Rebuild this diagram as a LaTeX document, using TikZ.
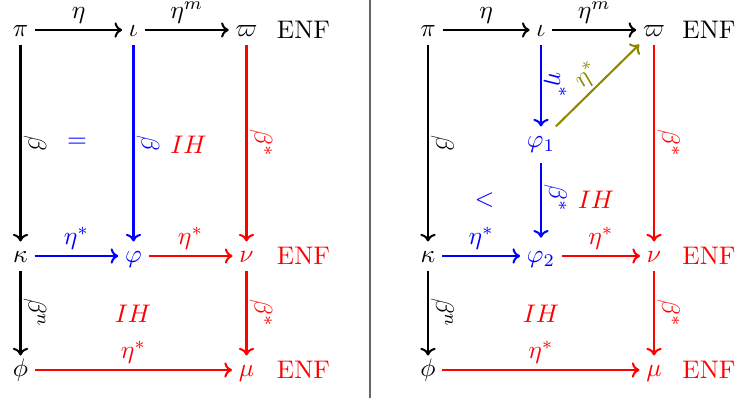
\documentclass[tikz,border=0pt]{standalone}
\usepackage{xcolor}
\usepackage{amsmath}
\usepackage{tikz}
\usetikzlibrary{arrows.meta}

\begin{document}
\begin{tikzpicture}[
    x=0.393pt, y=-0.393pt,
    obj/.style={inner xsep=2.5pt, inner ysep=1.5pt, text height=6.5pt, text depth=1.5pt},
    arr/.style={-{Computer Modern Rightarrow[length=3pt, width=6pt]}, thick},
    lab/.style={midway, above, inner sep=2pt},
    vlab/.style={midway, rotate=-90, anchor=south, inner sep=0.8pt},
]
\useasboundingbox (0,0) rectangle (740,403);

% left square
\node[obj] (lpi) at (20.5,30) {$\pi$};
\node[obj] (liota) at (133.5,30) {$\iota$};
\node[obj] (lvarpi) at (246.5,30) {$\varpi$};
\node (lenf1) at (303.5,30) {ENF};
\node[obj] (lkappa) at (20.5,256) {$\kappa$};
\node[obj, blue] (lvphi) at (133.5,256) {$\varphi$};
\node[obj, red] (lnu) at (246.5,256) {$\nu$};
\node[red] (lenf2) at (lnu -| lenf1) {ENF};
\node[obj] (lphi) at (20.5,370) {$\phi$};
\node[obj, red] (lmu) at (246.5,370) {$\mu$};
\node[red] (lenf3) at (lmu -| lenf1) {ENF};

\draw[arr] (lpi) -- node[lab] {$\eta$} (liota);
\draw[arr] (liota) -- node[lab] {$\eta^m$} (lvarpi);
\draw[arr] (lpi) -- node[vlab] {$\beta$} (lkappa);
\draw[arr, blue] (liota) -- node[vlab] {$\beta$} (lvphi);
\draw[arr, red] (lvarpi) -- node[vlab] {$\beta^*$} (lnu);
\draw[arr, blue] (lkappa) -- node[lab] {$\eta^*$} (lvphi);
\draw[arr, red] (lvphi) -- node[lab] {$\eta^*$} (lnu);
\draw[arr] (lkappa) -- node[vlab] {$\beta^n$} (lphi);
\draw[arr, red] (lnu) -- node[vlab] {$\beta^*$} (lmu);
\draw[arr, red] (lphi) -- node[lab] {$\eta^*$} (lmu);

\node[blue] (leq) at (77,142.5) {$=$};
\node[red] (lih1) at (188.5,144.5) {$IH$};
\node[red] (lih2) at (133,313.5) {$IH$};

% separator
\draw[black!60, line width=0.6pt] (370,0) -- (370,398);

% right square
\node[obj] (rpi) at (428,30) {$\pi$};
\node[obj] (riota) at (541,30) {$\iota$};
\node[obj] (rvarpi) at (654,30) {$\varpi$};
\node (renf1) at (709,30) {ENF};
\node[obj, blue] (rvphi1) at (541,141) {$\varphi_1$};
\node[obj] (rkappa) at (428,256) {$\kappa$};
\node[obj, blue] (rvphi2) at (541,256) {$\varphi_2$};
\node[obj, red] (rnu) at (654,256) {$\nu$};
\node[red] (renf2) at (rnu -| renf1) {ENF};
\node[obj] (rphi) at (428,370) {$\phi$};
\node[obj, red] (rmu) at (654,370) {$\mu$};
\node[red] (renf3) at (rmu -| renf1) {ENF};

\draw[arr] (rpi) -- node[lab] {$\eta$} (riota);
\draw[arr] (riota) -- node[lab] {$\eta^m$} (rvarpi);
\draw[arr] (rpi) -- node[vlab] {$\beta$} (rkappa);
\draw[arr, blue] (riota) -- node[vlab] {$\eta^*$} (rvphi1);
\draw[arr, olive] (rvphi1) -- node[midway, above, sloped, inner sep=1pt] {$\eta^*$} (rvarpi);
\draw[arr, blue, shorten <=2.8pt, shorten >=1.5pt] (rvphi1) -- node[vlab] {$\beta^*$} (rvphi2);
\draw[arr, red] (rvarpi) -- node[vlab] {$\beta^*$} (rnu);
\draw[arr, blue] (rkappa) -- node[lab] {$\eta^*$} (rvphi2);
\draw[arr, red] (rvphi2) -- node[lab] {$\eta^*$} (rnu);
\draw[arr] (rkappa) -- node[vlab] {$\beta^n$} (rphi);
\draw[arr, red] (rnu) -- node[vlab] {$\beta^*$} (rmu);
\draw[arr, red] (rphi) -- node[lab] {$\eta^*$} (rmu);

\node[blue] (rlt) at (484.5,200) {$<$};
\node[red] (rih1) at (596,200) {$IH$};
\node[red] (rih2) at (541,313.5) {$IH$};
\end{tikzpicture}
\end{document}
